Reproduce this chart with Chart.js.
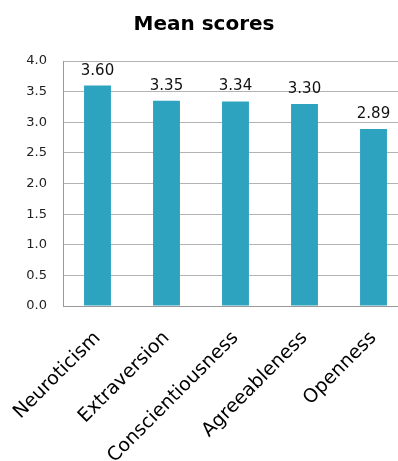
<!DOCTYPE html>
<html>
<head>
<meta charset="utf-8">
<script src="https://cdn.jsdelivr.net/npm/chart.js@4"></script>
<style>
  html, body { margin: 0; padding: 0; background: #fff; overflow: hidden; }
  #wrap { width: 398px; height: 461px; overflow: hidden; }
</style>
</head>
<body>
<div id="wrap"><canvas id="myChart" width="428" height="461"></canvas></div>
<script>
// Data
var traits = ['Neuroticism', 'Extraversion', 'Conscientiousness', 'Agreeableness', 'Openness'];
var meanScores = [3.60, 3.35, 3.34, 3.30, 2.89];
var yTicks = [0.0, 0.5, 1.0, 1.5, 2.0, 2.5, 3.0, 3.5, 4.0];

var fontFamily = '"DejaVu Sans", sans-serif';

// Draw the value above each bar
var valueLabels = {
    id: 'valueLabels',
    afterDatasetsDraw: function (chart) {
        var ctx = chart.ctx;
        var meta = chart.getDatasetMeta(0);
        ctx.save();
        ctx.font = '15px ' + fontFamily;
        ctx.fillStyle = '#111';
        ctx.textAlign = 'center';
        ctx.textBaseline = 'alphabetic';
        meta.data.forEach(function (bar, i) {
            ctx.fillText(meanScores[i].toFixed(2), bar.x, bar.y - 11);
        });
        ctx.restore();
    }
};

var ctx = document.getElementById('myChart').getContext('2d');
var myChart = new Chart(ctx, {
    type: 'bar',
    data: {
        labels: traits,
        datasets: [{
            label: 'Mean score',
            data: meanScores,
            backgroundColor: '#2ea3c0',
            borderWidth: 0,
            barPercentage: 0.39,
            categoryPercentage: 1.0
        }]
    },
    options: {
        responsive: false,
        animation: false,
        layout: { padding: { left: 0, right: 20, top: 0, bottom: 0 } },
        plugins: {
            legend: { display: false },
            tooltip: { enabled: false },
            title: {
                display: true,
                text: 'Mean scores',
                color: '#000',
                font: { family: fontFamily, size: 20, weight: 'bold' },
                padding: { top: 13, bottom: 24 }
            }
        },
        scales: {
            y: {
                min: 0,
                max: 4,
                afterBuildTicks: function (scale) {
                    scale.ticks = yTicks.map(function (v) { return { value: v }; });
                },
                afterFit: function (scale) { scale.width = 63; },
                grid: { color: '#b3b3b3', drawTicks: false },
                border: { color: '#999', width: 1 },
                ticks: {
                    padding: 16,
                    color: '#222',
                    font: { family: fontFamily, size: 13 },
                    callback: function (v) { return Number(v).toFixed(1); }
                }
            },
            x: {
                afterFit: function (scale) {
                    scale.height = 155;
                    scale.paddingLeft = 0;
                    scale.paddingRight = 0;
                },
                grid: { display: false, drawTicks: false },
                border: { color: '#999', width: 1 },
                ticks: {
                    minRotation: 45,
                    maxRotation: 45,
                    padding: 21,
                    color: '#000',
                    font: { family: fontFamily, size: 19 }
                }
            }
        }
    },
    plugins: [valueLabels]
});
</script>
</body>
</html>
